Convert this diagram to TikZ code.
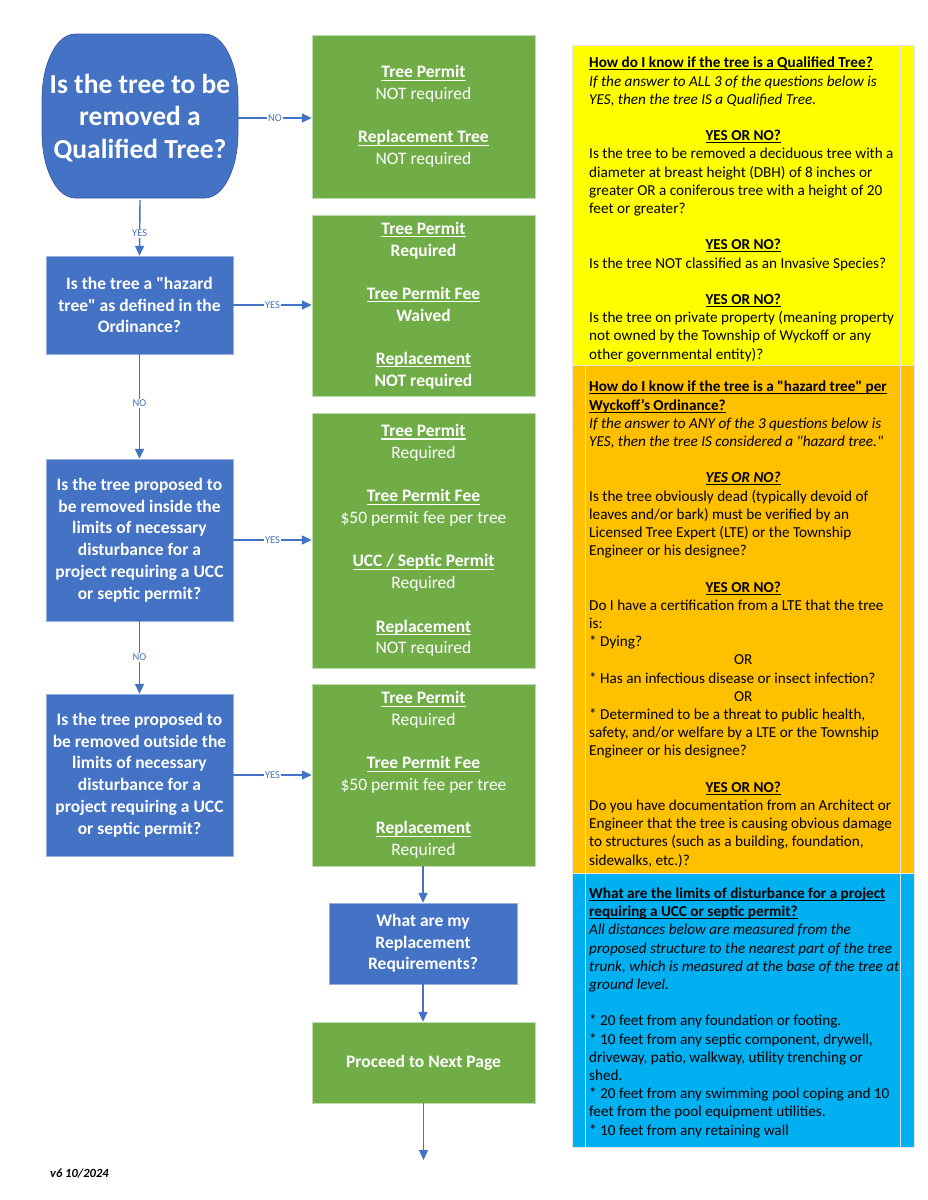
\documentclass[tikz,border=0pt]{standalone}
\usepackage{fontspec}
\setmainfont{Carlito}
\usepackage{xcolor}
\usetikzlibrary{arrows.meta}
\definecolor{qblue}{HTML}{4472C4}
\definecolor{ogreen}{HTML}{70AD47}
\definecolor{infoyellow}{HTML}{FFFF00}
\definecolor{infoorange}{HTML}{FFC000}
\definecolor{infosky}{HTML}{00B0F0}
\tikzset{
	question/.style={fill=qblue, draw=qblue!55!white, text=white, align=center, inner sep=0pt,
			font=\bfseries\fontsize{17.5}{21.7}\selectfont},
	outcome/.style={fill=ogreen, draw=ogreen!45!white, text=white, align=center, inner sep=0pt,
			font=\fontsize{17.5}{21.7}\selectfont},
	flow/.style={draw=qblue, line width=1.4pt, -{Triangle[length=10pt,width=9pt]}},
	answer/.style={fill=white, text=qblue, inner sep=1pt, font=\fontsize{10.5}{11}\selectfont},
	infotext/.style={anchor=base west, align=left, inner sep=0pt, text=black,
			font=\fontsize{15.2}{18.2}\selectfont}
}
\newcommand{\ulbox}[1]{\setbox0=\hbox{#1}\leavevmode\rlap{\rule[-0.16em]{\wd0}{0.06em}}\box0}
\newcommand{\hd}[1]{\ulbox{\textbf{#1}}}
\newcommand{\yesno}{\makebox[308pt]{\hd{YES OR NO?}}}
\newcommand{\orline}{\makebox[308pt]{OR}}
\newcommand{\qq}{\textquotedbl}

\begin{document}
\begin{tikzpicture}[x=1pt,y=-1pt]
	\useasboundingbox (0,0) rectangle (927,1200);

	% Start shape
	\fill[qblue, draw=qblue!80!black, line width=0.6pt]
		(42,99) arc[start angle=180, end angle=270, x radius=33, y radius=65]
		-- (205,34) arc[start angle=270, end angle=360, x radius=33, y radius=65]
		-- (238,133) arc[start angle=0, end angle=90, x radius=33, y radius=65]
		-- (75,198) arc[start angle=90, end angle=180, x radius=33, y radius=65]
		-- cycle;
	\node[text=white, align=center, minimum width=196pt, minimum height=164pt, inner sep=0pt,
		font=\bfseries\fontsize{27.5}{32.5}\selectfont] (qual) at (140,118)
		{Is the tree to be\\removed a\\Qualified Tree?};

	% Questions
	\node[question, minimum width=187pt, minimum height=98pt] (hazard) at (139.5,305)
		{Is the tree a \qq hazard\\tree\qq{} as defined in the\\Ordinance?};
	\node[question, minimum width=187pt, minimum height=162pt] (inside) at (139.5,540)
		{Is the tree proposed to\\be removed inside the\\limits of necessary\\disturbance for a\\project requiring a UCC\\or septic permit?};
	\node[question, minimum width=187pt, minimum height=162pt] (outside) at (139.5,775)
		{Is the tree proposed to\\be removed outside the\\limits of necessary\\disturbance for a\\project requiring a UCC\\or septic permit?};

	% Outcomes
	\node[outcome, minimum width=223pt, minimum height=163pt] (permA) at (423.5,116.5)
		{\hd{Tree Permit}\\NOT required\\[21.7pt]\hd{Replacement Tree}\\NOT required};
	\node[outcome, minimum width=223pt, minimum height=181pt] (permB) at (423.5,305.5)
		{\hd{Tree Permit}\\\textbf{Required}\\[21.7pt]\hd{Tree Permit Fee}\\\textbf{Waived}\\[21.7pt]\hd{Replacement}\\\textbf{NOT required}};
	\node[outcome, minimum width=223pt, minimum height=255pt] (permC) at (423.5,540.5)
		{\hd{Tree Permit}\\Required\\[21.7pt]\hd{Tree Permit Fee}\\\$50 permit fee per tree\\[21.7pt]\hd{UCC / Septic Permit}\\Required\\[21.7pt]\hd{Replacement}\\NOT required};
	\node[outcome, minimum width=223pt, minimum height=182pt] (permD) at (423.5,775)
		{\hd{Tree Permit}\\Required\\[21.7pt]\hd{Tree Permit Fee}\\\$50 permit fee per tree\\[21.7pt]\hd{Replacement}\\Required};
	\node[question, minimum width=188pt, minimum height=81pt] (repl) at (423,943.5)
		{What are my\\Replacement\\Requirements?};
	\node[outcome, font=\bfseries\fontsize{17.5}{21.7}\selectfont, minimum width=223pt, minimum height=81pt] (proceed) at (423.5,1062.5)
		{Proceed to Next Page};
	\coordinate (nextpage) at (423.5,1160);

	% Connectors
	\draw[flow] (qual.east) -- node[answer] {NO} (permA.west |- qual.east);
	\draw[flow] (qual.south) -- node[answer, pos=0.6] {YES} (hazard.north);
	\draw[flow] (hazard.east) -- node[answer] {YES} (permB.west |- hazard.east);
	\draw[flow] (hazard.south) -- node[answer, pos=0.47] {NO} (inside.north);
	\draw[flow] (inside.east) -- node[answer] {YES} (permC.west |- inside.east);
	\draw[flow] (inside.south) -- node[answer] {NO} (outside.north);
	\draw[flow] (outside.east) -- node[answer] {YES} (permD.west |- outside.east);
	\draw[flow] (permD.south -| repl.north) -- (repl.north);
	\draw[flow] (repl.south) -- (proceed.north -| repl.south);
	\draw[flow] (proceed.south) -- (nextpage);

	% Information panels
	\fill[infoyellow] (572,45) rectangle (914,365);
	\fill[infoorange] (572,365) rectangle (914,873);
	\fill[infosky] (572,873) rectangle (914,1147);
	\draw[white!80!gray, line width=0.6pt] (572,45) rectangle (914,1147)
		(585,45) -- (585,1147) (900,45) -- (900,1147)
		(572,365) -- (914,365) (572,873) -- (914,873);

	\node[infotext] (qualinfo) at (589,359)
		{\hd{How do I know if the tree is a Qualified Tree?}\\
		\textit{If the answer to ALL 3 of the questions below is}\\
		\textit{YES, then the tree IS a Qualified Tree.}\\[18.2pt]
		\yesno\\
		Is the tree to be removed a deciduous tree with a\\
		diameter at breast height (DBH) of 8 inches or\\
		greater OR a coniferous tree with a height of 20\\
		feet or greater?\\[18.2pt]
		\yesno\\
		Is the tree NOT classified as an Invasive Species?\\[18.2pt]
		\yesno\\
		Is the tree on private property (meaning property\\
		not owned by the Township of Wyckoff or any\\
		other governmental entity)?};

	\node[infotext] (hazardinfo) at (589,865)
		{\hd{How do I know if the tree is a \qq hazard tree\qq{} per}\\
		\hd{Wyckoff's Ordinance?}\\
		\textit{If the answer to ANY of the 3 questions below is}\\
		\textit{YES, then the tree IS considered a \qq hazard tree.\qq}\\[18.2pt]
		\makebox[308pt]{\ulbox{\textbf{\textit{YES OR NO?}}}}\\
		Is the tree obviously dead (typically devoid of\\
		leaves and/or bark) must be verified by an\\
		Licensed Tree Expert (LTE) or the Township\\
		Engineer or his designee?\\[18.2pt]
		\yesno\\
		Do I have a certification from a LTE that the tree\\
		is:\\
		* Dying?\\
		\orline\\
		* Has an infectious disease or insect infection?\\
		\orline\\
		* Determined to be a threat to public health,\\
		safety, and/or welfare by a LTE or the Township\\
		Engineer or his designee?\\[18.2pt]
		\yesno\\
		Do you have documentation from an Architect or\\
		Engineer that the tree is causing obvious damage\\
		to structures (such as a building, foundation,\\
		sidewalks, etc.)?};

	\node[infotext] (limitinfo) at (589,1135)
		{\hd{What are the limits of disturbance for a project}\\
		\hd{requiring a UCC or septic permit?}\\
		\textit{All distances below are measured from the}\\
		\textit{proposed structure to the nearest part of the tree}\\
		\textit{trunk, which is measured at the base of the tree at}\\
		\textit{ground level.}\\[18.2pt]
		* 20 feet from any foundation or footing.\\
		* 10 feet from any septic component, drywell,\\
		driveway, patio, walkway, utility trenching or\\
		shed.\\
		* 20 feet from any swimming pool coping and 10\\
		feet from the pool equipment utilities.\\
		* 10 feet from any retaining wall};

	% Footer
	\node[anchor=base west, inner sep=0pt, font=\bfseries\itshape\fontsize{12.5}{14}\selectfont] (version) at (50,1177) {v6 10/2024};
\end{tikzpicture}
\end{document}
